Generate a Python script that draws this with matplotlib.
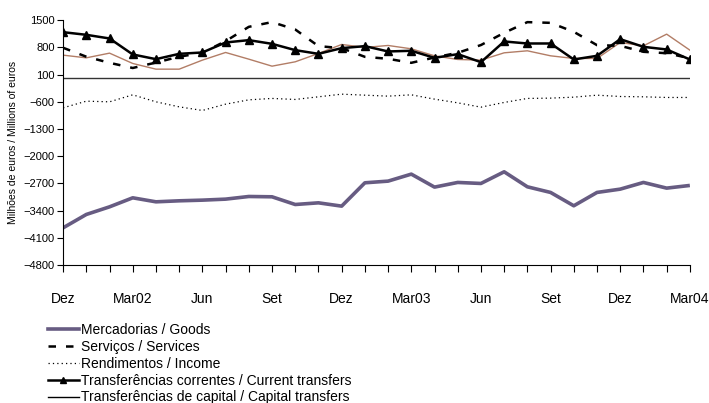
import numpy as np
import matplotlib
matplotlib.use("Agg")
import matplotlib.pyplot as plt
from matplotlib.lines import Line2D

plt.rcParams['font.family'] = ['Liberation Sans', 'DejaVu Sans']

# Monthly data, Dez 2001 .. Mar 2004 (millions of euros)
months = list(range(28))
tick_labels = ["Dez", "Mar02", "Jun", "Set", "Dez", "Mar03", "Jun", "Set", "Dez", "Mar04"]

goods = [-3840, -3496, -3300, -3068, -3171, -3145, -3128, -3102, -3034, -3042,
         -3240, -3197, -3282, -2682, -2639, -2459, -2793, -2673, -2699, -2399,
         -2785, -2930, -3273, -2930, -2845, -2673, -2819, -2750]

services = [790, 560, 403, 270, 410, 560, 660, 960, 1328, 1450,
            1260, 832, 780, 557, 506, 403, 540, 660, 860, 1174,
            1449, 1431, 1200, 857, 840, 686, 650, 520]

income = [-754, -583, -600, -420, -600, -729, -822, -660, -549, -513,
          -539, -471, -403, -429, -454, -420, -531, -626, -737, -616,
          -513, -505, -480, -429, -463, -471, -488, -488]

current_transfers = [1191, 1123, 1029, 618, 497, 634, 669, 926, 986, 891,
                     729, 634, 780, 832, 695, 712, 531, 626, 420, 952,
                     900, 900, 489, 583, 1011, 814, 746, 489]

capital_transfers = [600, 531, 652, 386, 240, 240, 472, 669, 497, 317,
                     429, 643, 875, 798, 849, 763, 583, 489, 472, 660,
                     712, 583, 515, 515, 926, 840, 1140, 729]

fig = plt.figure(figsize=(7.09, 4.03), dpi=100)
ax = fig.add_axes([0.089, 0.342, 0.884, 0.608])

ax.axhline(0, color="#333333", lw=1.0, zorder=1)
ax.plot(months, goods, color="#675c82", lw=2.6, solid_capstyle="butt")
ax.plot(months, capital_transfers, color="#b27d66", lw=1.0)
ax.plot(months, services, color="black", lw=1.8, dashes=(3, 4))
ax.plot(months, income, color="black", lw=0.9, dashes=(1, 2.5))
ax.plot(months, current_transfers, color="black", lw=1.8, marker="^", markersize=6)

ax.set_xlim(0, 27)
ax.set_ylim(-4800, 1500)
ax.set_yticks(np.arange(-4800, 1501, 700))
ax.set_xticks(months)
ax.set_xticklabels([tick_labels[i // 3] if i % 3 == 0 else "" for i in months])
ax.tick_params(axis="x", direction="out", length=5, pad=14, labelsize=10)
ax.tick_params(axis="y", direction="out", length=4, pad=2, labelsize=8)
ax.spines["top"].set_visible(False)
ax.spines["right"].set_visible(False)
ax.set_ylabel("Milhões de euros / Millions of euros", fontsize=7.5, labelpad=4)

handles = [
    Line2D([], [], color="#675c82", lw=2.6),
    Line2D([], [], color="black", lw=1.8, dashes=(3, 4)),
    Line2D([], [], color="black", lw=0.9, dashes=(1, 2.5)),
    Line2D([], [], color="black", lw=1.8, marker="^", markersize=4),
    Line2D([], [], color="black", lw=1.0),
]
labels = ["Mercadorias / Goods", "Serviços / Services", "Rendimentos / Income",
          "Transferências correntes / Current transfers",
          "Transferências de capital / Capital transfers"]
fig.legend(handles, labels, loc="upper left", bbox_to_anchor=(0.058, 0.215),
           frameon=False, fontsize=10, handlelength=2.2, handletextpad=0.2,
           labelspacing=0.2, borderpad=0)

fig.savefig("out.png", dpi=100)
